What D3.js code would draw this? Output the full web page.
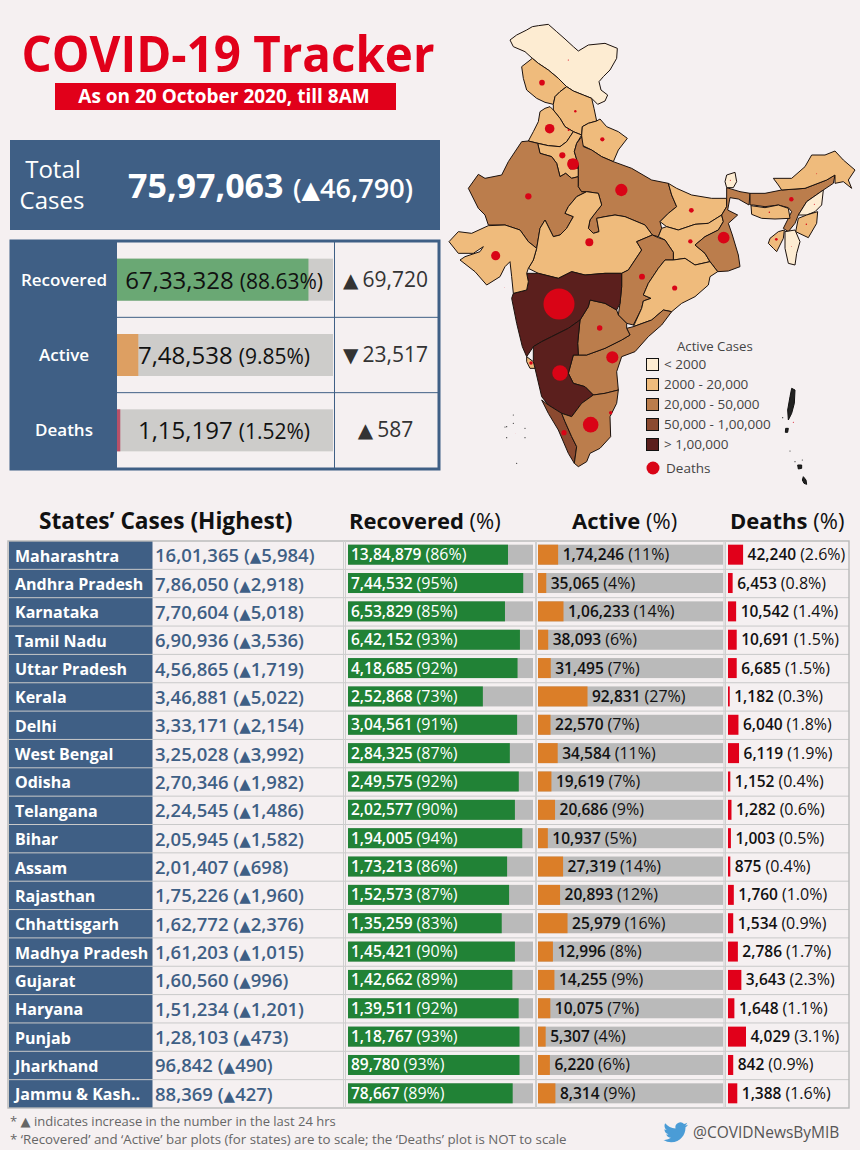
<!DOCTYPE html>
<html>
<head>
<meta charset="utf-8">
<script src="https://d3js.org/d3.v7.min.js"></script>
<style>
	html, body { margin: 0; padding: 0; background: #f5f0f1; }
	svg { display: block; }
	text { font-family: "Open Sans", sans-serif; }
</style>
</head>
<body>
<div id="view"></div>
<script>
// national figures
var totalCases = 7597063, totalDelta = 46790;
var summaryLabels = ["Recovered", "Active", "Deaths"];
var summaryValues = [6733328, 748538, 115197];
var summaryPct = [88.63, 9.85, 1.52];
var summaryDelta = [69720, 23517, 587];
var summaryUp = [true, false, true];

// state table
var states = ["Maharashtra","Andhra Pradesh","Karnataka","Tamil Nadu","Uttar Pradesh","Kerala","Delhi","West Bengal","Odisha","Telangana","Bihar","Assam","Rajasthan","Chhattisgarh","Madhya Pradesh","Gujarat","Haryana","Punjab","Jharkhand","Jammu & Kash.."];
var cases = [1601365,786050,770604,690936,456865,346881,333171,325028,270346,224545,205945,201407,175226,162772,161203,160560,151234,128103,96842,88369];
var caseDelta = [5984,2918,5018,3536,1719,5022,2154,3992,1982,1486,1582,698,1960,2376,1015,996,1201,473,490,427];
var recovered = [1384879,744532,653829,642152,418685,252868,304561,284325,249575,202577,194005,173213,152573,135259,145421,142662,139511,118767,89780,78667];
var recoveredPct = [86,95,85,93,92,73,91,87,92,90,94,86,87,83,90,89,92,93,93,89];
var active = [174246,35065,106233,38093,31495,92831,22570,34584,19619,20686,10937,27319,20893,25979,12996,14255,10075,5307,6220,8314];
var activePct = [11,4,14,6,7,27,7,11,7,9,5,14,12,16,8,9,7,4,6,9];
var deaths = [42240,6453,10542,10691,6685,1182,6040,6119,1152,1282,1003,875,1760,1534,2786,3643,1648,4029,842,1388];
var deathsPct = [2.6,0.8,1.4,1.5,1.5,0.3,1.8,1.9,0.4,0.6,0.5,0.4,1.0,0.9,1.7,2.3,1.1,3.1,0.9,1.6];

// states that are on the map but not in the table (estimated from the map)
var otherStates = ["Ladakh","Himachal Pradesh","Uttarakhand","Goa","Sikkim","Arunachal Pradesh","Meghalaya","Manipur","Nagaland","Mizoram","Tripura"];
var otherActive = [900,3000,5000,3000,300,2500,2200,3000,1500,300,3000];

// map outlines, in map grid units
var outlines = {
	"Ladakh": [[195,75],[215,60],[245,45],[262,35],[280,32],[310,28],[335,50],[360,72],[385,95],[400,108],[430,90],[480,85],[517,100],[515,130],[495,165],[475,185],[462,200],[468,225],[488,240],[480,258],[458,268],[440,250],[415,240],[385,228],[365,215],[340,190],[310,165],[280,145],[262,130],[240,110],[205,95]],
	"Jammu & Kash..": [[262,130],[280,145],[310,165],[340,190],[365,215],[345,230],[330,245],[325,268],[300,262],[275,250],[245,225],[235,190],[230,155]],
	"Himachal Pradesh": [[365,215],[385,228],[415,240],[440,250],[447,280],[455,318],[430,325],[412,335],[410,360],[385,350],[360,335],[345,310],[325,285],[325,268],[330,245],[345,230]],
	"Punjab": [[315,275],[300,280],[285,290],[280,320],[265,350],[250,378],[280,385],[310,392],[345,395],[365,380],[375,365],[385,350],[360,335],[345,310],[325,285]],
	"Haryana": [[278,385],[310,392],[345,395],[365,380],[375,365],[385,350],[410,360],[395,385],[388,410],[400,450],[400,485],[380,490],[362,475],[345,485],[335,445],[320,425],[285,415]],
	"Delhi": [[372,435],[395,435],[398,460],[375,462]],
	"Uttarakhand": [[412,335],[430,325],[455,318],[465,312],[485,335],[520,350],[547,370],[520,405],[505,440],[470,425],[440,405],[410,390],[410,360]],
	"Rajasthan": [[230,380],[250,378],[278,385],[285,415],[320,425],[335,445],[345,485],[362,475],[380,490],[400,485],[400,515],[410,530],[425,530],[395,545],[370,575],[360,595],[385,605],[365,640],[345,660],[325,665],[300,615],[285,640],[275,700],[250,680],[225,645],[180,630],[130,630],[120,600],[100,580],[70,520],[100,478],[120,490],[170,480],[190,440]],
	"Uttar Pradesh": [[410,365],[395,385],[388,410],[400,450],[400,485],[400,515],[410,530],[425,530],[460,535],[470,570],[450,595],[435,615],[430,640],[445,655],[462,650],[455,610],[480,605],[510,600],[540,605],[600,630],[622,660],[640,665],[650,640],[645,620],[670,595],[695,575],[680,540],[670,505],[620,495],[560,460],[505,440],[470,425],[440,405],[415,395]],
	"Bihar": [[670,505],[695,520],[740,540],[800,550],[845,550],[845,575],[830,600],[790,625],[750,628],[700,645],[665,635],[645,620],[670,595],[695,575],[680,540]],
	"Jharkhand": [[650,640],[665,635],[700,645],[750,628],[790,625],[830,600],[835,620],[820,645],[780,665],[750,690],[780,715],[795,740],[750,750],[720,730],[685,735],[685,712],[660,675],[640,665]],
	"West Bengal": [[845,518],[885,530],[915,535],[912,570],[880,552],[855,548],[848,585],[878,600],[850,625],[862,660],[880,720],[885,755],[850,768],[818,770],[795,740],[780,715],[750,690],[780,665],[820,645],[835,620],[830,600],[845,575],[845,550]],
	"Madhya Pradesh": [[425,530],[460,535],[470,570],[450,595],[435,615],[430,640],[445,655],[462,650],[455,610],[480,605],[510,600],[540,605],[600,630],[622,660],[575,680],[590,705],[550,765],[530,775],[480,775],[420,780],[380,770],[340,790],[280,775],[250,760],[265,735],[275,700],[285,640],[300,615],[325,665],[345,660],[365,640],[385,605],[360,595],[370,575],[395,545]],
	"Chhattisgarh": [[575,680],[622,660],[640,668],[660,675],[685,712],[685,735],[660,735],[640,760],[610,805],[595,840],[618,850],[595,858],[590,880],[565,930],[545,925],[520,900],[525,865],[530,815],[530,775],[550,765],[590,705]],
	"Odisha": [[685,735],[720,730],[750,750],[795,740],[818,770],[795,785],[790,810],[750,845],[710,865],[680,890],[655,885],[620,915],[565,935],[590,880],[595,858],[618,850],[595,840],[610,805],[640,760],[660,735]],
	"Andhra Pradesh": [[680,890],[655,885],[620,915],[565,935],[545,940],[555,960],[530,975],[480,1000],[425,1020],[385,1020],[370,1075],[385,1105],[420,1115],[445,1140],[480,1135],[520,1125],[515,1070],[530,1025],[570,1010],[610,965],[650,930]],
	"Telangana": [[435,855],[480,865],[515,885],[520,900],[545,925],[545,940],[555,960],[530,975],[480,1000],[425,1020],[400,1020],[398,985],[405,915],[430,875]],
	"Maharashtra": [[205,835],[245,825],[250,800],[245,775],[280,775],[340,790],[380,770],[420,780],[480,775],[530,775],[530,815],[525,865],[515,885],[480,865],[435,855],[430,875],[405,915],[370,940],[320,965],[290,980],[265,995],[245,1025],[232,995],[215,925],[200,850]],
	"Karnataka": [[265,995],[290,980],[320,965],[370,940],[405,915],[398,985],[400,1020],[385,1020],[370,1075],[385,1105],[420,1115],[445,1140],[410,1165],[380,1205],[350,1195],[310,1170],[290,1145],[270,1060],[265,1040]],
	"Goa": [[245,1025],[265,1040],[270,1060],[255,1060],[245,1040]],
	"Kerala": [[290,1155],[310,1170],[350,1195],[360,1220],[380,1265],[395,1295],[388,1345],[370,1315],[340,1245],[310,1195]],
	"Tamil Nadu": [[350,1195],[380,1205],[410,1165],[445,1140],[480,1135],[520,1125],[515,1165],[495,1205],[497,1265],[465,1300],[435,1315],[425,1340],[400,1355],[388,1345],[395,1295],[380,1265],[360,1220]],
	"Gujarat": [[12,680],[40,650],[80,655],[130,632],[180,630],[225,645],[250,680],[275,700],[265,735],[250,760],[245,775],[250,800],[245,825],[205,835],[200,785],[195,740],[180,755],[165,785],[125,810],[90,770],[45,735],[60,725],[105,710],[115,695],[85,715],[40,715]],
	"Assam": [[915,535],[960,535],[1010,525],[1080,520],[1145,495],[1170,480],[1165,505],[1135,525],[1085,560],[1060,600],[1050,625],[1030,650],[1015,640],[1040,590],[1030,578],[1000,570],[960,575],[925,570],[915,570]],
	"Meghalaya": [[918,572],[960,578],[1000,570],[1030,580],[1035,610],[990,612],[950,610],[920,598]],
	"Arunachal Pradesh": [[985,490],[1040,490],[1080,455],[1100,420],[1140,420],[1170,408],[1195,435],[1230,465],[1210,495],[1220,520],[1195,500],[1170,505],[1170,480],[1145,495],[1080,520],[1010,525],[1000,510]],
	"Nagaland": [[1135,525],[1130,570],[1110,590],[1085,600],[1060,600],[1085,560]],
	"Manipur": [[1085,600],[1118,590],[1115,625],[1090,668],[1052,650],[1060,610]],
	"Mizoram": [[1020,650],[1050,645],[1065,680],[1055,715],[1050,750],[1030,745],[1020,700]],
	"Tripura": [[975,670],[1000,650],[1018,645],[1015,670],[995,710],[985,700],[970,685]],
	"Sikkim": [[845,480],[870,472],[875,500],[865,518],[845,518],[840,500]]
};
var islands = [
	[[1040,1120],[1050,1125],[1048,1165],[1040,1195],[1030,1215],[1028,1185],[1035,1145]],
	[[1022,1240],[1030,1240],[1028,1252],[1021,1252]],
	[[1075,1385],[1083,1395],[1085,1408],[1077,1405],[1072,1395]],
	[[1058,1350],[1070,1350],[1070,1360],[1060,1362]]
];
var islets = [[1013,1208],[1035,1308],[1050,1340],[1072,1335],[205,1200],[185,1235],[180,1236],[240,1240],[240,1268],[205,1225],[215,1345],[185,1268]];

// death dots: grid position and deaths (other states)
var dotStates = ["Maharashtra","Andhra Pradesh","Karnataka","Tamil Nadu","Uttar Pradesh","Kerala","Delhi","West Bengal","Odisha","Telangana","Bihar","Assam","Rajasthan","Chhattisgarh","Madhya Pradesh","Gujarat","Haryana","Punjab","Jharkhand","Jammu & Kash.."];
var dotX = [342,502,345,437,529,357,384,836,689,464,739,1039,250,591,433,152,352,314,736,291];
var dotY = [867,1027,1074,1229,525,1253,447,668,819,939,586,553,544,785,682,722,421,341,679,203];
var extraDotX = [370,391,472,258,497,371,856,1115,973,1084,1108,1039,994,1045,178,211];
var extraDotY = [135,289,373,1044,1193,345,496,476,592,628,568,694,673,1222,817,1255];
var extraDeaths = [58,260,800,550,540,190,50,40,90,90,50,30,320,50,10,5];

// legend
var legendLabels = ["< 2000","2000 - 20,000","20,000 - 50,000","50,000 - 1,00,000","> 1,00,000"];
var bandColors = ["#fdecd2","#efbb7c","#bb7d4c","#8b4a30","#5b1f1d"];

var footnoteA = " indicates increase in the number in the last 24 hrs";
var footnoteB = "* ‘Recovered’ and ‘Active’ bar plots (for states) are to scale; the ‘Deaths’ plot is NOT to scale";

var blue = "#3f5f85", red = "#e1001a", grey = "#bababa";
var indian = d3.formatLocale({ decimal: ".", thousands: ",", grouping: [3, 2], currency: ["", ""] }).format(",d");

var svg = d3.select("#view").append("svg").attr("width", 860).attr("height", 1150);

function label(parent, x, y, txt, size, color, weight, anchor) {
	return parent.append("text").attr("x", x).attr("y", y).text(txt)
		.attr("font-size", size).attr("fill", color)
		.attr("font-weight", weight || 400).attr("text-anchor", anchor || "start");
}

// the triangles are wider in the original than in Open Sans
function tri(sel, ch, size) {
	return sel.append("tspan").attr("font-family", "DejaVu Sans").attr("font-size", size).text(ch);
}

// header
label(svg, 228, 72, "COVID-19 Tracker", 50, red, 700, "middle").attr("textLength", 413).attr("lengthAdjust", "spacingAndGlyphs");
svg.append("rect").attr("x", 55).attr("y", 83).attr("width", 341).attr("height", 27).attr("fill", red);
label(svg, 224, 103, "As on 20 October 2020, till 8AM", 19, "#fff", 700, "middle");

// total box
svg.append("rect").attr("x", 10).attr("y", 140).attr("width", 430).attr("height", 90).attr("fill", blue);
label(svg, 53, 178, "Total", 24, "#fff", 400, "middle");
label(svg, 52, 209, "Cases", 24, "#fff", 400, "middle");
label(svg, 128, 198, indian(totalCases), 34, "#fff", 700);
var tt = label(svg, 293, 198, "(", 27, "#fff", 600);
tri(tt, "▲", 24);
tt.append("tspan").text(indian(totalDelta) + ")");

// summary panel
var sumY = d3.scaleBand().domain(summaryLabels).range([242, 468]);
var sumX = d3.scaleLinear().domain([0, 100]).range([117, 333]);
var sumColors = ["#6aa874", "#dd9f62", "#b85068"];

svg.append("rect").attr("x", 11).attr("y", 241).attr("width", 428).attr("height", 228)
	.attr("fill", "none").attr("stroke", blue).attr("stroke-width", 3);
svg.append("rect").attr("x", 10).attr("y", 240).attr("width", 107).attr("height", 230).attr("fill", blue);
svg.append("line").attr("x1", 334.5).attr("x2", 334.5).attr("y1", 241).attr("y2", 469).attr("stroke", blue);

summaryLabels.forEach(function(name, i) {
	var y = sumY(name), mid = y + sumY.bandwidth() / 2;
	if (i > 0) {
		svg.append("line").attr("x1", 117).attr("x2", 439).attr("y1", y).attr("y2", y).attr("stroke", blue);
	}
	label(svg, 64, mid + 6, name, 17, "#fff", 600, "middle");
	svg.append("rect").attr("x", sumX(0)).attr("y", mid - 21).attr("width", sumX(100) - sumX(0)).attr("height", 42).attr("fill", "#cdccca");
	svg.append("rect").attr("x", sumX(0)).attr("y", mid - 21).attr("width", sumX(summaryPct[i]) - sumX(0)).attr("height", 42).attr("fill", sumColors[i]);
	var t = label(svg, i === 0 ? 323 : 310, mid + 9, "", 24, "#111", 400, "end");
	t.append("tspan").text(indian(summaryValues[i]));
	t.append("tspan").attr("font-size", 21).attr("dx", 6).text("(" + summaryPct[i] + "%)");
	var d = label(svg, 385.5, mid + 7, "", 21, "#333", 400, "middle");
	tri(d, summaryUp[i] ? "▲" : "▼", 20);
	d.append("tspan").attr("dx", 4).text(indian(summaryDelta[i]));
});

// map
var mapX = d3.scaleLinear().domain([0, 1245]).range([445, 860]);
var mapY = d3.scaleLinear().domain([0, 1425]).range([15, 490]);
var band = d3.scaleThreshold().domain([2000, 20000, 50000, 100000]).range(bandColors);
var outlineLine = d3.line().x(function(d) { return mapX(d[0]); }).y(function(d) { return mapY(d[1]); }).curve(d3.curveLinearClosed);

function activeOf(name) {
	var i = states.indexOf(name);
	return i >= 0 ? active[i] : otherActive[otherStates.indexOf(name)];
}

var map = svg.append("g");
map.selectAll("path.state").data(Object.keys(outlines)).enter().append("path")
	.attr("class", "state")
	.attr("d", function(d) { return outlineLine(outlines[d]); })
	.attr("fill", function(d) { return band(activeOf(d)); })
	.attr("stroke", "#1c120e").attr("stroke-width", 1).attr("stroke-linejoin", "round");
map.selectAll("path.island").data(islands).enter().append("path")
	.attr("class", "island").attr("d", outlineLine)
	.attr("fill", "#222").attr("stroke", "#111").attr("stroke-width", 1);
map.selectAll("circle.islet").data(islets).enter().append("circle")
	.attr("class", "islet").attr("cx", function(d) { return mapX(d[0]); }).attr("cy", function(d) { return mapY(d[1]); })
	.attr("r", 0.6).attr("fill", "#333");

var dotR = d3.scaleSqrt().domain([0, 42240]).range([0, 15.5]);
var dotData = dotStates.map(function(s, i) { return { x: dotX[i], y: dotY[i], d: deaths[states.indexOf(s)] }; })
	.concat(extraDotX.map(function(x, i) { return { x: x, y: extraDotY[i], d: extraDeaths[i] }; }));
map.selectAll("circle.dot").data(dotData).enter().append("circle")
	.attr("class", "dot")
	.attr("cx", function(d) { return mapX(d.x); }).attr("cy", function(d) { return mapY(d.y); })
	.attr("r", function(d) { return dotR(d.d); }).attr("fill", "#d90416");

// map legend
var legY = d3.scalePoint().domain(legendLabels).range([364.5, 444.5]);
label(svg, 677, 351, "Active Cases", 13.2, "#444");
legendLabels.forEach(function(t, i) {
	svg.append("rect").attr("x", 646.5).attr("y", legY(t) - 6).attr("width", 12).attr("height", 12)
		.attr("fill", bandColors[i]).attr("stroke", "#111").attr("stroke-width", 1);
	label(svg, 664, legY(t) + 4.5, t, 13.5, "#444");
});
svg.append("circle").attr("cx", 653).attr("cy", 468).attr("r", 6.5).attr("fill", "#d90416");
label(svg, 666, 473, "Deaths", 13.5, "#444");

// table headers
label(svg, 39, 529, "States’ Cases (Highest)", 22.7, "#111", 700);
var hr = label(svg, 349, 529, "Recovered ", 22, "#111", 700);
hr.append("tspan").attr("font-weight", 500).text("(%)");
var ha = label(svg, 572, 529, "Active ", 22, "#111", 700);
ha.append("tspan").attr("font-weight", 500).text("(%)");
var hd = label(svg, 730, 529, "Deaths ", 22, "#111", 700);
hd.append("tspan").attr("font-weight", 500).text("(%)");

// table body
var rowY = d3.scaleBand().domain(states).range([541, 1108]);
var recX = d3.scaleLinear().domain([0, 1]).range([348, 533]);
var actX = d3.scaleLinear().domain([0, 1]).range([538, 723]);
var dthX = d3.scaleLinear().domain([0, 3.1]).range([728, 746]);
var rowH = rowY.bandwidth();

svg.append("rect").attr("x", 9).attr("y", 541).attr("width", 143.5).attr("height", 567).attr("fill", blue);

// number in semi bold and percentage in regular
function barLabel(x, y, value, pct, color) {
	var t = label(svg, x, y, indian(value), 15.5, color, 600);
	t.append("tspan").attr("dx", 4).attr("font-size", 16).attr("font-weight", 400).text("(" + pct + "%)");
}

states.forEach(function(name, i) {
	var y = rowY(name), mid = y + rowH / 2, base = mid + 6;
	var barH = 20, barY = mid - 10 - 0.5;

	label(svg, 15, base + 0.5, name, 16, "#fff", 700);
	var c = label(svg, 155, base + 1, indian(cases[i]) + " (", 18.5, blue, 600);
	tri(c, "▲", 15);
	c.append("tspan").text(indian(caseDelta[i]) + ")");

	svg.append("rect").attr("x", recX(0)).attr("y", barY).attr("width", recX(1) - recX(0)).attr("height", barH).attr("fill", grey);
	svg.append("rect").attr("x", recX(0)).attr("y", barY).attr("width", recX(recovered[i] / cases[i]) - recX(0)).attr("height", barH).attr("fill", "#218236");
	barLabel(351, barY + 15.5, recovered[i], recoveredPct[i], "#fff");

	var aEnd = actX(active[i] / cases[i]);
	svg.append("rect").attr("x", actX(0)).attr("y", barY).attr("width", actX(1) - actX(0)).attr("height", barH).attr("fill", grey);
	svg.append("rect").attr("x", actX(0)).attr("y", barY).attr("width", aEnd - actX(0)).attr("height", barH).attr("fill", "#db7e28");
	barLabel(aEnd + 4.5, barY + 15.5, active[i], activePct[i], "#111");

	var dEnd = dthX(deathsPct[i]);
	svg.append("rect").attr("x", dthX(0)).attr("y", barY).attr("width", dEnd - dthX(0)).attr("height", barH).attr("fill", red);
	barLabel(dEnd + 4.5, barY + 15.5, deaths[i], deathsPct[i].toFixed(1), "#111");

	if (i > 0) {
		svg.append("line").attr("x1", 9).attr("x2", 849).attr("y1", y).attr("y2", y).attr("stroke", "#c9c9c9").attr("stroke-width", 1);
	}
});

// table frame and double column rules
svg.append("rect").attr("x", 8).attr("y", 541).attr("width", 841).attr("height", 567)
	.attr("fill", "none").attr("stroke", "#b8b8b8").attr("stroke-width", 1.4);
[343.5, 345.5, 535.5, 536.5, 724, 725.5].forEach(function(x) {
	svg.append("line").attr("x1", x).attr("x2", x).attr("y1", 541).attr("y2", 1108).attr("stroke", "#cfcfcf").attr("stroke-width", 1);
});

// footer
var fa = label(svg, 10, 1126, "* ", 13, "#666");
tri(fa, "▲", 13);
fa.append("tspan").text(footnoteA);
label(svg, 10, 1144, footnoteB, 13.3, "#666");
svg.append("path")
	.attr("transform", "translate(663.5,1120) scale(1.02)")
	.attr("d", "M23.953 4.57a10 10 0 01-2.825.775 4.958 4.958 0 002.163-2.723c-.951.555-2.005.959-3.127 1.184a4.92 4.92 0 00-8.384 4.482C7.69 8.095 4.067 6.13 1.64 3.162a4.822 4.822 0 00-.666 2.475c0 1.71.87 3.213 2.188 4.096a4.904 4.904 0 01-2.228-.616v.06a4.923 4.923 0 003.946 4.827 4.996 4.996 0 01-2.212.085 4.936 4.936 0 004.604 3.417 9.867 9.867 0 01-6.102 2.105c-.39 0-.779-.023-1.17-.067a13.995 13.995 0 007.557 2.209c9.053 0 13.998-7.496 13.998-13.985 0-.21 0-.42-.015-.63A9.935 9.935 0 0024 4.59z")
	.attr("fill", "#4a9cd6");
label(svg, 693, 1138, "@COVIDNewsByMIB", 15.5, "#555");
</script>
</body>
</html>
